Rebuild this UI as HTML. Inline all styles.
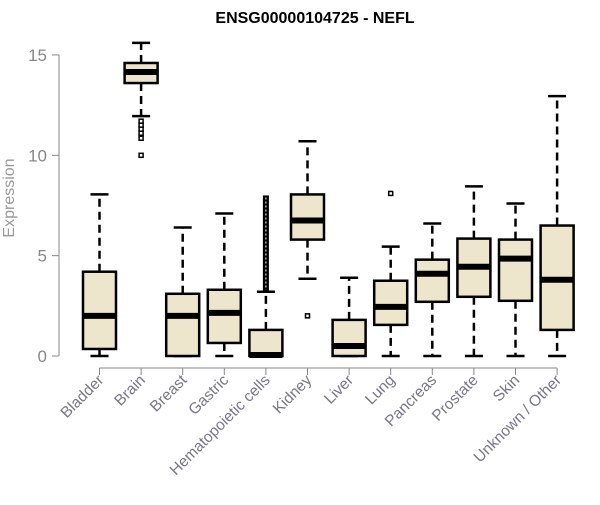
<!DOCTYPE html>
<html><head><meta charset="utf-8"><style>
body{margin:0;background:#fff}
svg text{font-family:"Liberation Sans",Arial,sans-serif}
</style></head><body>
<svg id="chart" width="600" height="500"></svg>
<script>
const categories=["Bladder","Brain","Breast","Gastric","Hematopoietic cells","Kidney","Liver","Lung","Pancreas","Prostate","Skin","Unknown / Other"];
const whiskerLow=[0,11.95,0,0,0,3.85,0,0,0,0,0,0];
const q1=[0.35,13.6,0,0.65,0,5.8,0,1.55,2.7,2.95,2.75,1.3];
const medians=[2.0,14.15,2.0,2.15,0.05,6.75,0.5,2.45,4.1,4.45,4.85,3.8];
const q3=[4.2,14.6,3.1,3.3,1.3,8.05,1.8,3.75,4.8,5.85,5.8,6.5];
const whiskerHigh=[8.05,15.6,6.4,7.1,3.2,10.7,3.9,5.45,6.6,8.45,7.6,12.95];
const outlierCat=[1,1,1,1,1,1,5,7];
const outlierVal=[11.7,11.5,11.3,11.1,10.85,10.0,2.0,8.1];
const yTicks=[0,5,10,15];
const NS="http://www.w3.org/2000/svg";
const svg=document.getElementById('chart');
const y=v=>356-v*20.07;
const x=i=>99.5+i*41.6;
function mk(t,a,p){const e=document.createElementNS(NS,t);for(const k in a)e.setAttribute(k,a[k]);(p||svg).appendChild(e);return e;}
let t=mk('text',{x:315,y:23,'text-anchor':'middle','font-size':16,'font-weight':'bold',fill:'#000'});t.textContent="ENSG00000104725 - NEFL";

let ya=mk('g',{});
mk('line',{x1:59,x2:59,y1:y(0),y2:y(15),stroke:'#888','stroke-width':1},ya);
yTicks.forEach(v=>{mk('line',{x1:52,x2:59,y1:y(v),y2:y(v),stroke:'#888'},ya);
 const l=mk('text',{x:47,y:y(v)+6,'text-anchor':'end','font-size':17,fill:'#888'},ya);l.textContent=v;
 });
let yl=mk('text',{x:0,y:0,transform:'translate(14,198) rotate(-90)','text-anchor':'middle','font-size':16,fill:'#999'});yl.textContent="Expression";

let xa=mk('g',{});
mk('line',{x1:x(0),x2:x(categories.length-1),y1:368,y2:368,stroke:'#888'},xa);
categories.forEach((c,i)=>{mk('line',{x1:x(i),x2:x(i),y1:368,y2:375,stroke:'#888'},xa);
 const l=mk('text',{x:0,y:0,transform:`translate(${x(i)+5},381) rotate(-45)`,'text-anchor':'end','font-size':15.5,fill:'#778'},xa);l.textContent=c;
 });
const hw=16.5;
categories.forEach((c,i)=>{
 const g=mk('g',{});
 const cx=x(i);
 mk('line',{x1:cx,x2:cx,y1:y(q3[i]),y2:y(whiskerHigh[i]),stroke:'#000','stroke-width':2.5,'stroke-dasharray':'8,5'},g);
 mk('line',{x1:cx,x2:cx,y1:y(q1[i]),y2:y(whiskerLow[i]),stroke:'#000','stroke-width':2.5,'stroke-dasharray':'8,5'},g);
 mk('line',{x1:cx-9,x2:cx+9,y1:y(whiskerHigh[i]),y2:y(whiskerHigh[i]),stroke:'#000','stroke-width':2.5},g);
 mk('line',{x1:cx-9,x2:cx+9,y1:y(whiskerLow[i]),y2:y(whiskerLow[i]),stroke:'#000','stroke-width':2.5},g);
 mk('rect',{x:cx-hw,y:y(q3[i]),width:hw*2,height:Math.max(1,y(q1[i])-y(q3[i])),fill:'#ede6cc',stroke:'#000','stroke-width':2.5},g);
 mk('line',{x1:cx-hw,x2:cx+hw,y1:y(medians[i]),y2:y(medians[i]),stroke:'#000','stroke-width':6},g);
});
(function(){const i=4,cx=x(i);
 const g=mk('g',{});
 mk('rect',{x:cx-3,y:y(7.9)-2,width:6,height:y(3.2)-y(7.9)+2,fill:'#000'},g);
 mk('line',{x1:cx,x2:cx,y1:y(7.9),y2:y(3.3),stroke:'#fff','stroke-width':1,'stroke-dasharray':'2,2'},g);})();
outlierVal.forEach((v,k)=>{const p=mk('rect',{x:x(outlierCat[k])-2,y:y(v)-2,width:4,height:4,fill:'#fff',stroke:'#000','stroke-width':1.5});
 });
</script>
</body></html>
